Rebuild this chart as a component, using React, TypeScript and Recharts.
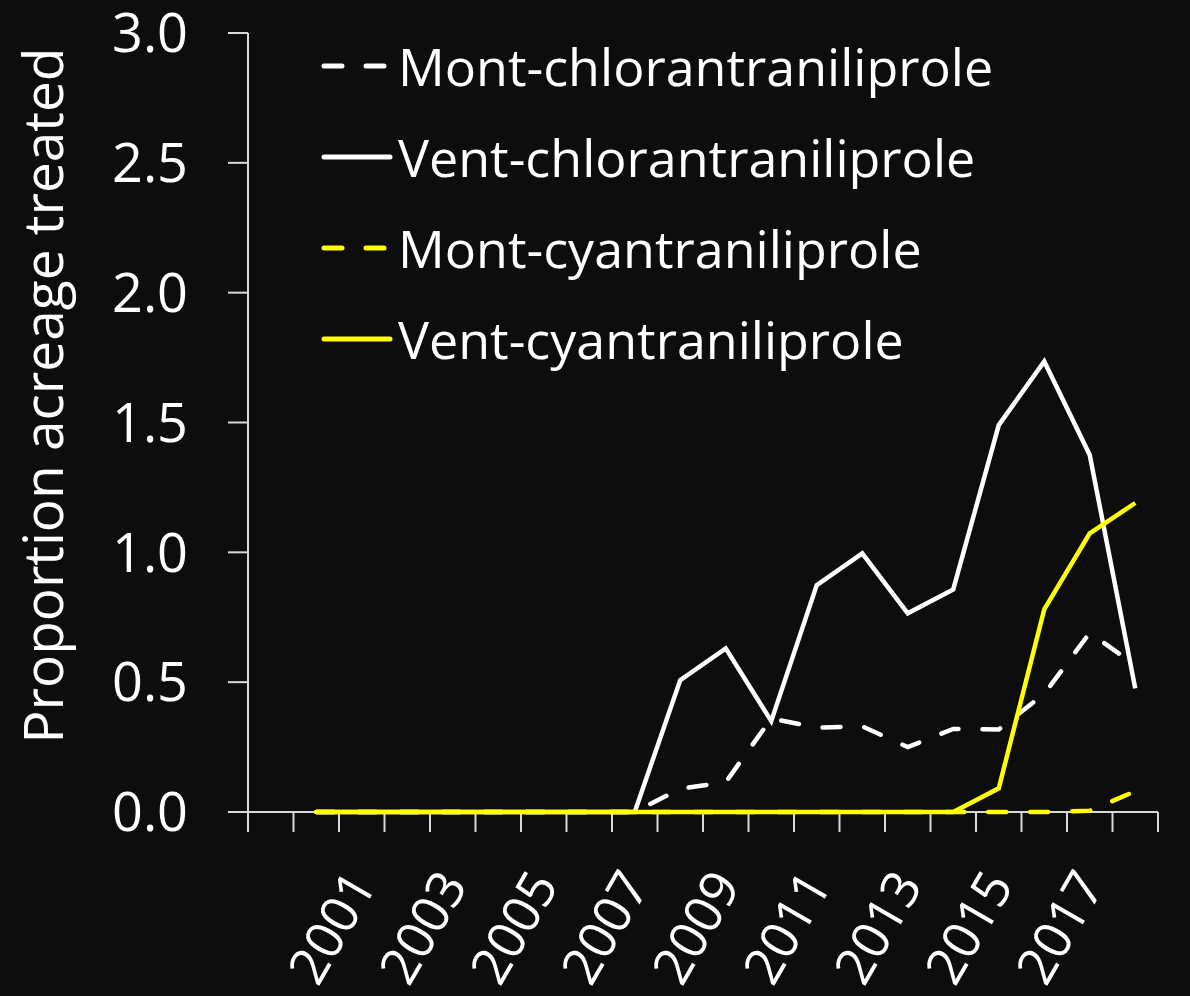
import React from 'react';
import { LineChart, Line, XAxis, YAxis, Legend } from 'recharts';

const years = [1999, 2000, 2001, 2002, 2003, 2004, 2005, 2006, 2007, 2008, 2009, 2010, 2011, 2012, 2013, 2014, 2015, 2016, 2017, 2018];
const montChlor = [null, 0, 0, 0, 0, 0, 0, 0, 0, 0.09, 0.115, 0.36, 0.325, 0.33, 0.25, 0.32, 0.318, 0.455, 0.69, 0.566];
const ventChlor = [null, 0, 0, 0, 0, 0, 0, 0, 0, 0.508, 0.63, 0.35, 0.874, 0.996, 0.765, 0.857, 1.49, 1.735, 1.375, 0.476];
const montCyan = [null, 0, 0, 0, 0, 0, 0, 0, 0, 0, 0, 0, 0, 0, 0, 0, 0, 0, 0.005, 0.08];
const ventCyan = [null, 0, 0, 0, 0, 0, 0, 0, 0, 0, 0, 0, 0, 0, 0, 0, 0.091, 0.78, 1.073, 1.19];

const yTicks = [0, 0.5, 1, 1.5, 2, 2.5, 3];
const yearLabels = [2001, 2003, 2005, 2007, 2009, 2011, 2013, 2015, 2017];

const seriesNames = ['Mont-chlorantraniliprole', 'Vent-chlorantraniliprole', 'Mont-cyantraniliprole', 'Vent-cyantraniliprole'];
const seriesKeys = ['montChlor', 'ventChlor', 'montCyan', 'ventCyan'];
const seriesColors = ['#ffffff', '#ffffff', '#ffff00', '#ffff00'];
const seriesDashed = [true, false, true, false];

const data = years.map((year, i) => ({
  year,
  montChlor: montChlor[i],
  ventChlor: ventChlor[i],
  montCyan: montCyan[i],
  ventCyan: ventCyan[i],
}));

const boundaries = [...years.map((y) => y - 0.5), years[years.length - 1] + 0.5];
const xDomain: [number, number] = [boundaries[0], boundaries[boundaries.length - 1]];

const FONT = "'Open Sans', sans-serif";
const AXIS = '#d9d9d9';
const BG = '#0d0d0d';
const DASH = '18 24';

const EmptyTick = () => <g />;

const YearTick = (props: any) => {
  const { x, y, payload } = props;
  const ay = y + 42;
  return (
    <text
      x={x}
      y={ay}
      dy="0.35em"
      transform={`rotate(-60 ${x} ${ay})`}
      textAnchor="end"
      fill="#ffffff"
      fontSize={52}
      fontFamily={FONT}
    >
      {payload.value}
    </text>
  );
};

const YLabel = (props: any) => {
  const vb = props.viewBox || { x: 0, y: 33, width: 248, height: 779 };
  const cx = vb.x + 63;
  const cy = vb.y + vb.height / 2 - 27;
  return (
    <text
      x={cx}
      y={cy}
      transform={`rotate(-90 ${cx} ${cy})`}
      textAnchor="middle"
      fill="#ffffff"
      fontSize={55}
      fontFamily={FONT}
    >
      Proportion acreage treated
    </text>
  );
};

const LegendContent = () => (
  <div style={{ display: 'flex', flexDirection: 'column' }}>
    {seriesNames.map((name, i) => (
      <div key={name} style={{ height: 91, display: 'flex', alignItems: 'center' }}>
        <svg width={78} height={12} style={{ display: 'block' }}>
          <line
            x1={4}
            x2={70}
            y1={6}
            y2={6}
            stroke={seriesColors[i]}
            strokeWidth={5}
            strokeDasharray={seriesDashed[i] ? DASH : undefined}
            strokeLinecap="round"
          />
        </svg>
        <span style={{ fontSize: 52, color: '#ffffff', fontFamily: FONT, lineHeight: 1, whiteSpace: 'nowrap' }}>
          {name}
        </span>
      </div>
    ))}
  </div>
);

export default function App() {
  return (
    <div style={{ position: 'absolute', left: 0, top: 0, width: 1190, height: 996, background: BG }}>
      <LineChart width={1190} height={996} data={data} margin={{ top: 33, right: 32, bottom: 0, left: 0 }}>
        <XAxis
          xAxisId="a"
          dataKey="year"
          type="number"
          domain={xDomain}
          ticks={boundaries}
          interval={0}
          tick={EmptyTick}
          tickSize={20}
          tickMargin={0}
          height={22}
          stroke={AXIS}
          strokeWidth={2}
        />
        <XAxis
          xAxisId="b"
          dataKey="year"
          type="number"
          domain={xDomain}
          ticks={yearLabels}
          interval={0}
          axisLine={false}
          tickLine={false}
          tickSize={0}
          tickMargin={0}
          tick={<YearTick />}
          height={162}
        />
        <YAxis
          domain={[0, 3]}
          ticks={yTicks}
          interval={0}
          width={248}
          tickFormatter={(v: number) => v.toFixed(1)}
          tick={{ fill: '#ffffff', fontSize: 54, fontFamily: FONT }}
          tickSize={20}
          tickMargin={40}
          stroke={AXIS}
          strokeWidth={2}
          label={<YLabel />}
        />
        <Legend
          layout="vertical"
          align="center"
          verticalAlign="middle"
          content={<LegendContent />}
          wrapperStyle={{ left: 320, top: 20.5, width: 'auto' }}
        />
        {seriesKeys.map((k, i) => (
          <Line
            key={k}
            xAxisId="a"
            type="linear"
            dataKey={k}
            name={seriesNames[i]}
            stroke={seriesColors[i]}
            strokeWidth={4.5}
            strokeDasharray={seriesDashed[i] ? DASH : undefined}
            strokeLinecap={seriesDashed[i] ? 'round' : 'butt'}
            dot={false}
            activeDot={false}
            isAnimationActive={false}
            {...({ zIndex: 600 } as any)}
          />
        ))}
      </LineChart>
    </div>
  );
}
